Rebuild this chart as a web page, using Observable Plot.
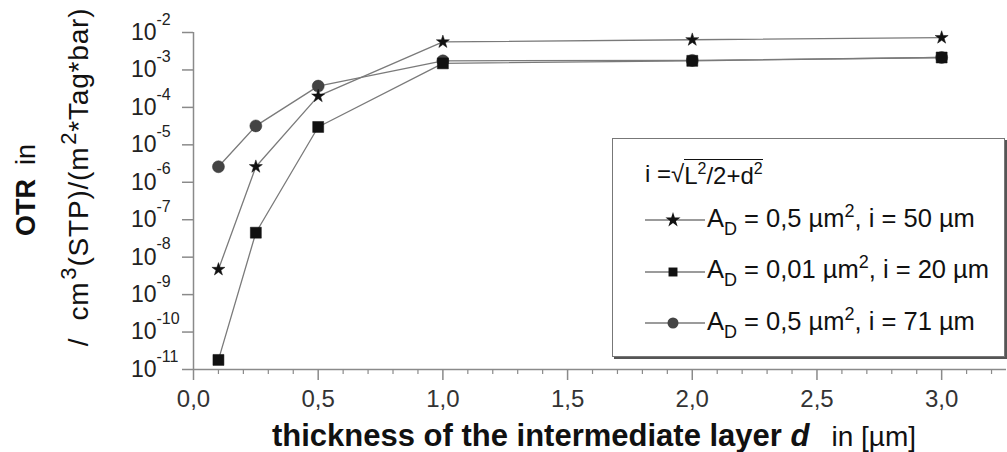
<!DOCTYPE html>
<html>
<head>
<meta charset="utf-8">
<script src="https://cdn.jsdelivr.net/npm/d3@7"></script>
<script src="https://cdn.jsdelivr.net/npm/@observablehq/plot@0.6"></script>
<style>
  html, body { margin: 0; padding: 0; background: #fff; }
  #wrap { position: relative; width: 1007px; height: 452px; font-family: "Liberation Sans", Arial, sans-serif; }
  #legend { position: absolute; left: 612px; top: 138px; width: 393px; height: 219px;
            border: 1.5px solid #777; box-shadow: 2px 2px 0 #555; background: #fff; box-sizing: border-box; }
  .row { position: absolute; left: 32px; height: 30px; display: flex; align-items: center; font-size: 25.5px; color: #111; white-space: nowrap; }
  .row.head { font-size: 24px; }
  .row svg { margin-right: 2px; }
  .sub { font-size: 18px; vertical-align: -8px; }
  .sup { font-size: 18px; vertical-align: 10px; }
  .head .sup { font-size: 16px; vertical-align: 10px; }
  .rad { border-top: 1.5px solid #111; padding-top: 0px; }
</style>
</head>
<body>
<div id="wrap"></div>
<script>
// ---- data ----
const thickness = [0.1, 0.25, 0.5, 1.0, 2.0, 3.0];
const otrStar   = [4.7e-9, 2.6e-6, 2.0e-4, 5.6e-3, 6.4e-3, 7.3e-3];   // A_D = 0,5 µm², i = 50 µm
const otrSquare = [1.8e-11, 4.5e-8, 3.0e-5, 1.5e-3, 1.75e-3, 2.15e-3]; // A_D = 0,01 µm², i = 20 µm
const otrCircle = [2.6e-6, 3.2e-5, 3.7e-4, 1.75e-3, 1.8e-3, 2.15e-3];  // A_D = 0,5 µm², i = 71 µm
const seriesNames = ["A_D = 0,5 µm², i = 50 µm", "A_D = 0,01 µm², i = 20 µm", "A_D = 0,5 µm², i = 71 µm"];

const xTicks = [0, 0.5, 1.0, 1.5, 2.0, 2.5, 3.0];
const xTickLabels = ["0,0", "0,5", "1,0", "1,5", "2,0", "2,5", "3,0"];
const xMinorTicks = [0.1,0.2,0.3,0.4,0.6,0.7,0.8,0.9,1.1,1.2,1.3,1.4,1.6,1.7,1.8,1.9,2.1,2.2,2.3,2.4,2.6,2.7,2.8,2.9,3.1,3.2];
const yTicks = [1e-2, 1e-3, 1e-4, 1e-5, 1e-6, 1e-7, 1e-8, 1e-9, 1e-10, 1e-11];
const yTickExponents = ["-2", "-3", "-4", "-5", "-6", "-7", "-8", "-9", "-10", "-11"];

const mk = (vals, s) => thickness.map((d, i) => ({d, v: vals[i], s}));
const star = mk(otrStar, seriesNames[0]);
const square = mk(otrSquare, seriesNames[1]);
const circle = mk(otrCircle, seriesNames[2]);

const lineGray = "#7a7a7a";
const axisGray = "#8a8a8a";

const chart = Plot.plot({
  width: 1007,
  height: 452,
  marginLeft: 193,
  marginTop: 32,
  marginBottom: 83,
  marginRight: 1,
  x: {domain: [0, 3.26]},
  y: {type: "log", domain: [1e-11, 1e-2]},
  style: {fontFamily: "'Liberation Sans', Arial, sans-serif", background: "#fff", color: "#111"},
  marks: [
    Plot.ruleX([0], {stroke: axisGray, strokeWidth: 1.5}),
    Plot.ruleY([1e-11], {stroke: axisGray, strokeWidth: 1.5}),
    Plot.axisY({ticks: yTicks, tickSize: 11, tickFormat: () => "", stroke: axisGray, strokeWidth: 1.5, label: null}),
    Plot.text(yTicks, {frameAnchor: "left", y: d => d, text: () => "10", textAnchor: "end", dx: -37, dy: 0, fontSize: 23, fill: "#222"}),
    Plot.text(yTicks, {frameAnchor: "left", y: d => d, text: (d, i) => yTickExponents[i], textAnchor: "start", dx: -37, dy: -13, fontSize: 16, fill: "#222"}),
    Plot.axisX({ticks: xTicks, tickSize: 11, tickPadding: 9, tickFormat: (d, i) => xTickLabels[i], stroke: axisGray, strokeWidth: 1.5, fontSize: 24, fill: "#333", label: null}),
    Plot.axisX({ticks: xMinorTicks, tickSize: 5, tickFormat: () => "", stroke: axisGray, strokeWidth: 1.2, label: null}),
    Plot.line(star, {x: "d", y: "v", stroke: lineGray, strokeWidth: 1.3}),
    Plot.line(square, {x: "d", y: "v", stroke: lineGray, strokeWidth: 1.3}),
    Plot.line(circle, {x: "d", y: "v", stroke: lineGray, strokeWidth: 1.3}),
    Plot.dot(circle, {x: "d", y: "v", symbol: "circle", r: 6, fill: "#444", stroke: "#333", strokeWidth: 0.5}),
    Plot.dot(square, {x: "d", y: "v", symbol: "square", r: 6.2, fill: "#111", stroke: "#111", strokeWidth: 0.5}),
    Plot.dot(star, {x: "d", y: "v", symbol: "star", r: 4.1, fill: "#111", stroke: "#111", strokeWidth: 0.5})
  ]
});

const wrap = document.getElementById("wrap");
wrap.appendChild(chart);

// ---- axis titles ----
const svg = d3.select(chart);
const ns = "'Liberation Sans', Arial, sans-serif";
const t1 = svg.append("text")
  .attr("transform", "translate(35,190) rotate(-90)")
  .attr("text-anchor", "middle")
  .attr("font-family", ns).attr("font-size", 27).attr("fill", "#111");
t1.append("tspan").attr("font-weight", "bold").text("OTR");
t1.append("tspan").attr("dx", 14).text("in");

const t2 = svg.append("text")
  .attr("transform", "translate(88,177) rotate(-90)")
  .attr("text-anchor", "middle")
  .attr("letter-spacing", 0.8)
  .attr("font-family", ns).attr("font-size", 28).attr("fill", "#111");
t2.append("tspan").text("/  cm");
t2.append("tspan").attr("font-size", 22).attr("dy", -12).attr("dx", 2).text("3");
t2.append("tspan").attr("dy", 12).text("(STP)/(m");
t2.append("tspan").attr("font-size", 22).attr("dy", -12).attr("dx", 2).text("2");
t2.append("tspan").attr("dy", 12).text("*Tag*bar)");

const t3 = svg.append("text")
  .attr("x", 594).attr("y", 446)
  .attr("text-anchor", "middle")
  .attr("font-family", ns).attr("font-size", 31).attr("fill", "#111");
t3.append("tspan").attr("font-weight", "bold").text("thickness of the intermediate layer ");
t3.append("tspan").attr("font-weight", "bold").attr("font-style", "italic").text("d");
t3.append("tspan").attr("dx", 22).attr("font-size", 28).text("in [µm]");

// ---- legend ----
const legend = document.createElement("div");
legend.id = "legend";
const symbols = ["star", "square", "circle"];
const symFill = ["#111", "#111", "#444"];
const symSize = [70, 80, 95];
const head = document.createElement("div");
head.className = "row head";
head.style.top = "20px";
head.innerHTML = 'i =√<span class="rad">L<span class="sup">2</span>/2+d<span class="sup">2</span></span>';
legend.appendChild(head);
seriesNames.forEach((name, i) => {
  const row = document.createElement("div");
  row.className = "row";
  row.style.top = (66 + i * 51.5) + "px";
  const path = d3.symbol(d3["symbol" + symbols[i][0].toUpperCase() + symbols[i].slice(1)], symSize[i])();
  const rest = name.replace("A_D", "").replace("µm²", 'µm<span class="sup">2</span>');
  row.innerHTML = `<svg width="60" height="30"><line x1="0" x2="60" y1="15" y2="15" stroke="${lineGray}" stroke-width="1.3"/>` +
    `<path d="${path}" transform="translate(28,15)" fill="${symFill[i]}"/></svg>` +
    `<span>A<span class="sub">D</span>${rest}</span>`;
  legend.appendChild(row);
});
wrap.appendChild(legend);
</script>
</body>
</html>
